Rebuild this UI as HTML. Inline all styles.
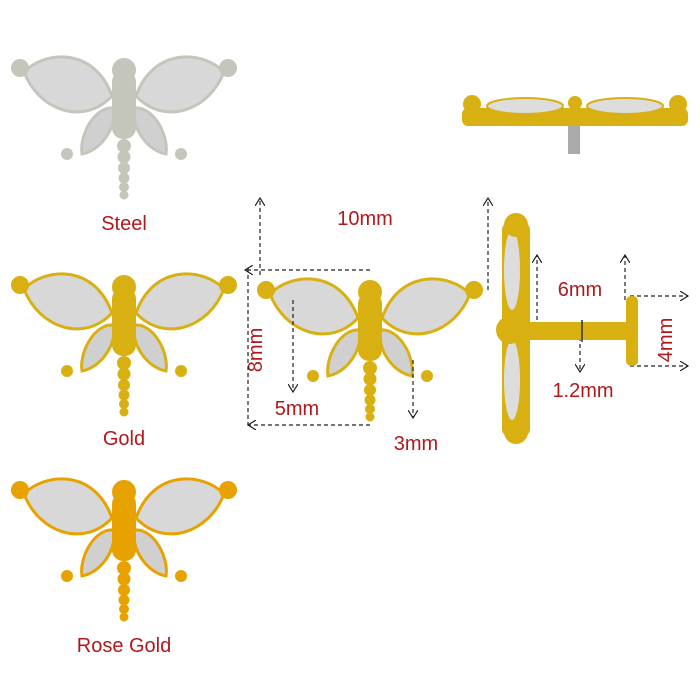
<!DOCTYPE html>
<html><head><meta charset="utf-8"><style>
html,body{margin:0;padding:0;background:#fff;}
svg{display:block;font-family:"Liberation Sans",sans-serif;}
</style></head><body>
<svg width="700" height="700" viewBox="0 0 700 700" xmlns="http://www.w3.org/2000/svg">
<defs>
<marker id="ar" markerWidth="10" markerHeight="10" refX="8" refY="5" orient="auto" markerUnits="userSpaceOnUse">
<path d="M0,0 L8,5 L0,10" fill="none" stroke="#222" stroke-width="1.2"/></marker>
<g id="df">
 <path d="M-12,30 C-30,-20 -80,-15 -100,6 C-85,45 -40,60 -12,30 Z" fill="#d8d8d8" stroke="currentColor" stroke-width="3"/>
 <path d="M12,30 C30,-20 80,-15 100,6 C85,45 40,60 12,30 Z" fill="#d8d8d8" stroke="currentColor" stroke-width="3"/>
 <path d="M-10,42 C-30,40 -45,70 -42,88 C-25,85 -8,65 -10,42 Z" fill="#d0d0d0" stroke="currentColor" stroke-width="3"/>
 <path d="M10,42 C30,40 45,70 42,88 C25,85 8,65 10,42 Z" fill="#d0d0d0" stroke="currentColor" stroke-width="3"/>
 <rect x="-12" y="5" width="24" height="68" rx="11" fill="currentColor"/>
 <circle cx="0" cy="4" r="12" fill="currentColor"/>
 <circle cx="0" cy="80" r="7" fill="currentColor"/>
 <circle cx="0" cy="91" r="6.5" fill="currentColor"/>
 <circle cx="0" cy="102" r="6" fill="currentColor"/>
 <circle cx="0" cy="112" r="5.5" fill="currentColor"/>
 <circle cx="0" cy="121" r="5" fill="currentColor"/>
 <circle cx="0" cy="129" r="4.5" fill="currentColor"/>
 <circle cx="-104" cy="2" r="9" fill="currentColor"/>
 <circle cx="104" cy="2" r="9" fill="currentColor"/>
 <circle cx="-57" cy="88" r="6" fill="currentColor"/>
 <circle cx="57" cy="88" r="6" fill="currentColor"/>
</g>
</defs>
<use href="#df" x="124" y="66" style="color:#c4c6bc"/>
<use href="#df" x="124" y="283" style="color:#d9b012"/>
<use href="#df" x="124" y="488" style="color:#e8a200"/>
<use href="#df" x="370" y="288" style="color:#d9b012"/>
<g fill="#b0191c" font-size="20">
<text x="124" y="230" text-anchor="middle">Steel</text>
<text x="124" y="445" text-anchor="middle">Gold</text>
<text x="124" y="652" text-anchor="middle">Rose Gold</text>
<text x="365" y="225" text-anchor="middle">10mm</text>
<text x="297" y="415" text-anchor="middle">5mm</text>
<text x="416" y="450" text-anchor="middle">3mm</text>
<text x="580" y="296" text-anchor="middle">6mm</text>
<text x="583" y="397" text-anchor="middle">1.2mm</text>
<text transform="translate(262,350) rotate(-90)" text-anchor="middle">8mm</text>
<text transform="translate(672,340) rotate(-90)" text-anchor="middle">4mm</text>
</g>
<g stroke="#222" stroke-width="1.2" stroke-dasharray="4,3" fill="none">
<line x1="260" y1="275" x2="260" y2="198" marker-end="url(#ar)"/>
<line x1="370" y1="270" x2="245" y2="270" marker-end="url(#ar)"/>
<line x1="488" y1="290" x2="488" y2="198" marker-end="url(#ar)"/>
<line x1="248" y1="268" x2="248" y2="425"/>
<line x1="370" y1="425" x2="248" y2="425" marker-end="url(#ar)"/>
<line x1="293" y1="300" x2="293" y2="392" marker-end="url(#ar)"/>
<line x1="413" y1="360" x2="413" y2="418" marker-end="url(#ar)"/>
<line x1="537" y1="320" x2="537" y2="255" marker-end="url(#ar)"/>
<line x1="625" y1="300" x2="625" y2="255" marker-end="url(#ar)"/>
<line x1="580" y1="330" x2="580" y2="372" marker-end="url(#ar)"/>
<line x1="630" y1="296" x2="688" y2="296" marker-end="url(#ar)"/>
<line x1="630" y1="366" x2="688" y2="366" marker-end="url(#ar)"/>
</g>
<rect x="462" y="108" width="226" height="18" rx="6" fill="#d9b012"/>
<ellipse cx="525" cy="106" rx="38" ry="8" fill="#ddd" stroke="#d9b012" stroke-width="2"/>
<ellipse cx="625" cy="106" rx="38" ry="8" fill="#ddd" stroke="#d9b012" stroke-width="2"/>
<circle cx="472" cy="104" r="9" fill="#d9b012"/>
<circle cx="678" cy="104" r="9" fill="#d9b012"/>
<circle cx="575" cy="103" r="7" fill="#d9b012"/>
<rect x="568" y="126" width="12" height="28" fill="#aaa"/>
<rect x="502" y="222" width="28" height="215" rx="8" fill="#d9b012"/>
<ellipse cx="512" cy="270" rx="8" ry="40" fill="#ddd"/>
<ellipse cx="512" cy="380" rx="8" ry="40" fill="#ddd"/>
<circle cx="516" cy="225" r="12" fill="#d9b012"/>
<circle cx="516" cy="432" r="12" fill="#d9b012"/>
<circle cx="510" cy="330" r="14" fill="#d9b012"/>
<rect x="525" y="322" width="102" height="18" fill="#d9b012"/>
<line x1="582" y1="320" x2="582" y2="342" stroke="#333" stroke-width="1.5"/>
<rect x="626" y="296" width="12" height="70" rx="5" fill="#d9b012"/>
</svg>
</body></html>
